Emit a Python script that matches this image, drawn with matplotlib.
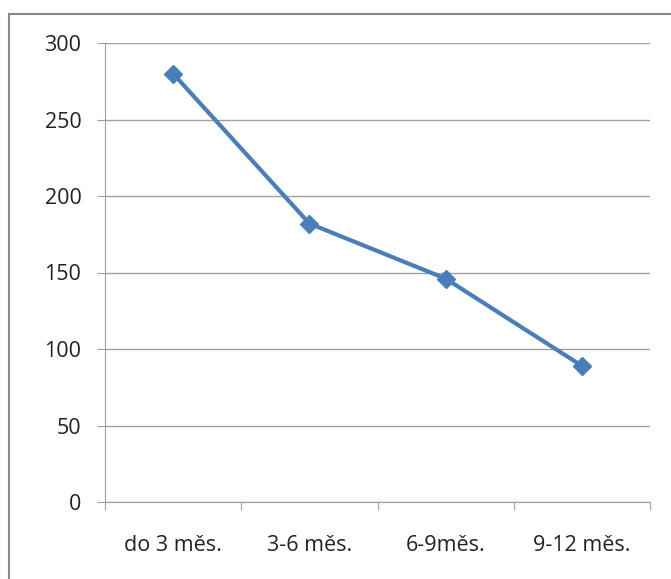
import matplotlib

matplotlib.use("Agg")
import matplotlib.pyplot as plt
from matplotlib.lines import Line2D

categories = ["do 3 měs.", "3-6 měs.", "6-9měs.", "9-12 měs."]
values = [280, 182, 146, 89]
y_ticks = [0, 50, 100, 150, 200, 250, 300]

plt.rcParams["font.family"] = ["Open Sans", "DejaVu Sans"]

fig = plt.figure(figsize=(6.71, 5.79), dpi=100)
ax = fig.add_axes([105 / 671, 1 - 502 / 579, 545 / 671, 459 / 579])

x = list(range(len(categories)))
ax.plot(x, values, "-D", color="#4A7EBB", lw=3, ms=9, zorder=3)

ax.set_ylim(0, 300)
ax.set_yticks(y_ticks)
ax.grid(axis="y", color="#A0A0A0", lw=1)
ax.set_axisbelow(True)

ax.set_xlim(-0.5, len(categories) - 0.5)
ax.set_xticks([i - 0.5 for i in range(len(categories) + 1)])
ax.set_xticklabels([])
ax.set_xticks(x, minor=True)
ax.set_xticklabels(categories, minor=True)
ax.tick_params(axis="x", which="major", length=6, color="#A0A0A0")
ax.tick_params(axis="x", which="minor", length=0, pad=24, labelsize=15.5, labelcolor="#222222")
ax.tick_params(axis="y", length=6, color="#A0A0A0", pad=11, labelsize=15.5, labelcolor="#222222")

for s in ("top", "right"):
    ax.spines[s].set_visible(False)
for s in ("left", "bottom"):
    ax.spines[s].set_color("#A0A0A0")

# outer chart frame (top and left edges visible)
fig.add_artist(Line2D([8.5 / 671, 1], [1 - 13.5 / 579] * 2, color="#888888", lw=1.5))
fig.add_artist(Line2D([8.5 / 671] * 2, [0, 1 - 13.5 / 579], color="#888888", lw=1.5))

fig.savefig("out.png", dpi=100)
